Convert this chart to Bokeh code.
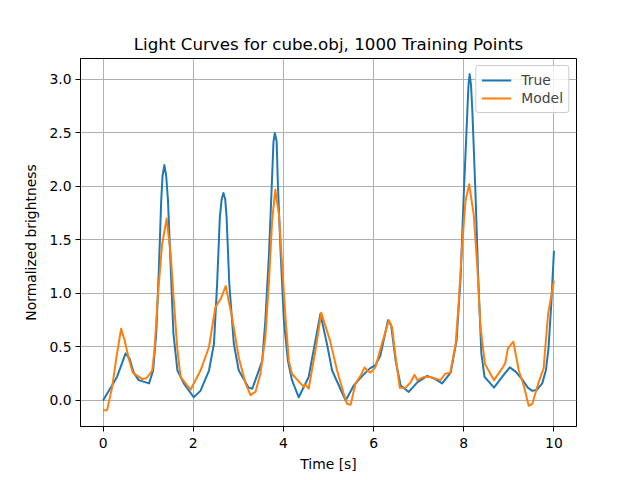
from bokeh.plotting import figure
from bokeh.models import Range1d, FixedTicker, Legend, LegendItem, Title
from bokeh.embed import file_html
from bokeh.resources import INLINE

true_t = [0.0, 0.31, 0.5, 0.59, 0.68, 0.79, 1.02, 1.11, 1.18, 1.24, 1.29, 1.32, 1.36, 1.40,
          1.44, 1.50, 1.56, 1.65, 1.79, 2.01, 2.16, 2.35, 2.46, 2.53, 2.59, 2.63, 2.67, 2.71,
          2.74, 2.80, 2.90, 3.01, 3.23, 3.31, 3.53, 3.60, 3.68, 3.74, 3.78, 3.81, 3.85, 3.88,
          3.94, 4.01, 4.10, 4.19, 4.34, 4.56, 4.82, 4.97, 5.08, 5.23, 5.38, 5.56, 5.75, 5.92,
          6.04, 6.15, 6.32, 6.39, 6.49, 6.60, 6.78, 6.97, 7.19, 7.37, 7.52, 7.71, 7.84, 7.93,
          8.00, 8.08, 8.105, 8.13, 8.16, 8.19, 8.26, 8.32, 8.39, 8.46, 8.67, 8.85, 9.02, 9.15,
          9.29, 9.42, 9.52, 9.62, 9.74, 9.82, 9.88, 9.94, 10.0]
true_y = [0.0, 0.22, 0.44, 0.39, 0.26, 0.19, 0.16, 0.28, 0.63, 1.25, 1.87, 2.10, 2.20, 2.10,
          1.87, 1.25, 0.63, 0.28, 0.16, 0.03, 0.09, 0.28, 0.53, 1.09, 1.71, 1.88, 1.94, 1.88,
          1.71, 1.09, 0.53, 0.28, 0.12, 0.11, 0.37, 0.75, 1.37, 1.99, 2.42, 2.50, 2.42, 1.99,
          1.37, 0.75, 0.37, 0.19, 0.03, 0.22, 0.81, 0.52, 0.28, 0.14, 0.0, 0.14, 0.23, 0.30,
          0.33, 0.42, 0.75, 0.70, 0.37, 0.14, 0.08, 0.17, 0.23, 0.20, 0.16, 0.26, 0.56, 1.15,
          1.93, 2.71, 2.95, 3.05, 2.95, 2.71, 1.93, 1.15, 0.44, 0.22, 0.12, 0.22, 0.31, 0.27,
          0.20, 0.12, 0.09, 0.10, 0.16, 0.28, 0.49, 0.90, 1.40]

model_t = [0.0, 0.09, 0.2, 0.31, 0.40, 0.48, 0.57, 0.66, 0.87, 0.97, 1.09, 1.14, 1.22, 1.31,
           1.41, 1.50, 1.57, 1.65, 1.72, 1.94, 2.16, 2.35, 2.49, 2.61, 2.72, 2.86, 3.01, 3.16,
           3.27, 3.38, 3.49, 3.60, 3.68, 3.75, 3.82, 3.90, 3.97, 4.05, 4.12, 4.19, 4.38, 4.45,
           4.48, 4.56, 4.71, 4.84, 5.04, 5.19, 5.34, 5.41, 5.49, 5.60, 5.71, 5.80, 5.86, 5.93,
           6.04, 6.19, 6.34, 6.41, 6.49, 6.58, 6.71, 6.82, 6.91, 6.97, 7.12, 7.26, 7.48, 7.59,
           7.70, 7.82, 7.89, 7.96, 8.04, 8.12, 8.22, 8.30, 8.37, 8.47, 8.67, 8.85, 8.92, 8.98,
           9.10, 9.22, 9.33, 9.44, 9.52, 9.66, 9.77, 9.87, 10.0]
model_y = [-0.09, -0.09, 0.12, 0.44, 0.67, 0.56, 0.39, 0.26, 0.20, 0.21, 0.28, 0.47, 1.0, 1.46,
           1.70, 1.37, 0.93, 0.47, 0.22, 0.10, 0.28, 0.50, 0.87, 0.95, 1.07, 0.78, 0.40, 0.16,
           0.05, 0.08, 0.25, 0.59, 1.12, 1.68, 1.97, 1.74, 1.28, 0.75, 0.37, 0.25, 0.16, 0.13,
           0.15, 0.11, 0.47, 0.82, 0.55, 0.28, 0.06, -0.03, -0.04, 0.16, 0.23, 0.31, 0.28, 0.26,
           0.31, 0.54, 0.75, 0.68, 0.40, 0.12, 0.12, 0.17, 0.24, 0.19, 0.22, 0.22, 0.19, 0.25,
           0.26, 0.53, 0.93, 1.43, 1.87, 2.02, 1.74, 1.25, 0.69, 0.34, 0.19, 0.30, 0.35, 0.49,
           0.55, 0.28, 0.14, -0.05, -0.03, 0.17, 0.30, 0.81, 1.12]

x_ticks = [0, 2, 4, 6, 8, 10]
y_ticks = [0.0, 0.5, 1.0, 1.5, 2.0, 2.5, 3.0]
y_labels = {0.0: "0.0", 0.5: "0.5", 1.0: "1.0", 1.5: "1.5", 2.0: "2.0", 2.5: "2.5", 3.0: "3.0"}

FONT = "DejaVu Sans"

p = figure(width=640, height=480, output_backend="svg", toolbar_location=None,
           x_range=Range1d(-0.5, 10.5), y_range=Range1d(-0.243, 3.196),
           min_border_left=80, min_border_right=64, min_border_top=58, min_border_bottom=54)
p.title = None
t = Title(text="Light Curves for cube.obj, 1000 Training Points", align="center",
          text_font=FONT, text_font_size="16.7px", text_font_style="normal",
          text_color="black", offset=0, standoff=10)
p.add_layout(t, "above")

p.outline_line_color = "black"
p.outline_line_width = 1
p.outline_line_alpha = 1

for ax in (p.xaxis, p.yaxis):
    ax.axis_line_color = "black"
    ax.major_tick_out = 5
    ax.major_tick_in = 0
    ax.minor_tick_line_color = None
    ax.major_label_text_font = FONT
    ax.major_label_text_font_size = "13.9px"
    ax.major_label_text_color = "black"
    ax.axis_label_text_font = FONT
    ax.axis_label_text_font_size = "13.9px"
    ax.axis_label_text_font_style = "normal"
    ax.axis_label_text_color = "black"

p.xaxis.ticker = FixedTicker(ticks=x_ticks)
p.yaxis.ticker = FixedTicker(ticks=y_ticks)
p.yaxis.major_label_overrides = y_labels
p.xaxis.axis_label = "Time [s]"
p.yaxis.axis_label = "Normalized brightness"
p.xaxis.major_label_standoff = 6
p.yaxis.major_label_standoff = 4
p.xaxis.axis_label_standoff = 5
p.yaxis.axis_label_standoff = 7

p.grid.grid_line_color = "#b0b0b0"
p.grid.grid_line_width = 1
p.xgrid.ticker = FixedTicker(ticks=x_ticks)
p.ygrid.ticker = FixedTicker(ticks=y_ticks)

r1 = p.line(true_t, true_y, line_color="#1f77b4", line_width=2, line_join="round")
r2 = p.line(model_t, model_y, line_color="#ff7f0e", line_width=2, line_join="round")

legend = Legend(items=[LegendItem(label="True", renderers=[r1]),
                       LegendItem(label="Model", renderers=[r2])],
                location="top_right")
legend.margin = 7
legend.padding = 5
legend.spacing = 0
legend.glyph_width = 30
legend.glyph_height = 18
legend.label_height = 18
legend.label_standoff = 10
legend.label_text_font = FONT
legend.label_text_font_size = "13.9px"
legend.border_line_color = "#cccccc"
legend.border_line_alpha = 1
legend.border_radius = 3
legend.background_fill_alpha = 0.8
p.add_layout(legend)

open("out.html", "w").write(file_html(p, INLINE))
